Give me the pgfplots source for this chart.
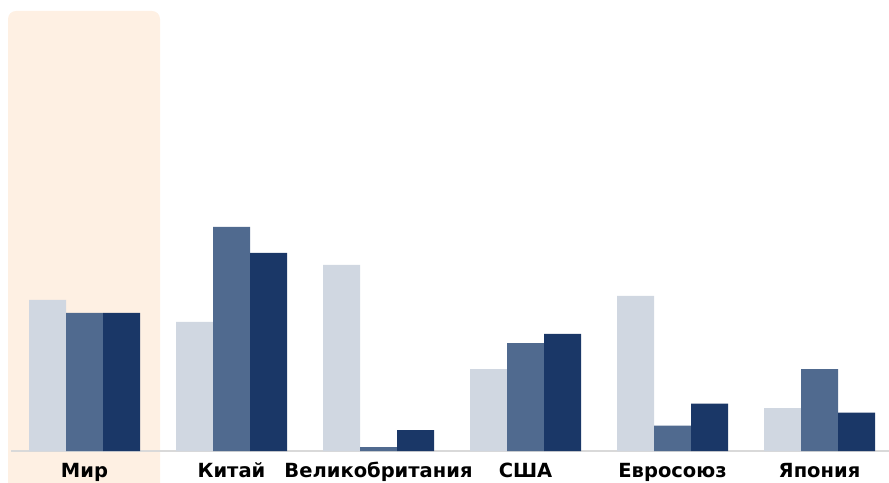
\documentclass[border=0pt]{standalone}
\usepackage{pgfplots}
\pgfplotsset{compat=1.18}
\usepackage{fontspec}
\setmainfont{DejaVu Sans}

\definecolor{hilite}{HTML}{FEF0E3}
\definecolor{barA}{HTML}{D0D7E1}
\definecolor{barB}{HTML}{506A8F}
\definecolor{barC}{HTML}{1A3767}
\definecolor{baseln}{HTML}{D9D9D9}

\begin{document}
\begin{tikzpicture}[x=1pt,y=1pt]
  \useasboundingbox (0,-31) rectangle (889,451);
  \clip (0,-31) rectangle (889,451);
  % highlighted world column
  \fill[hilite, rounded corners=8pt] (8,-60) rectangle (160,440);
  % baseline
  \draw[baseln, line width=2pt] (11,0) -- (889,0);
  \begin{axis}[
    at={(0,0)}, anchor=south west,
    scale only axis,
    width=889pt, height=451pt,
    xmin=-0.57483, xmax=5.47279,
    ymin=0, ymax=451,
    ybar=0pt, bar width=37pt,
    axis line style={draw=none},
    ytick=\empty,
    xtick={0,1,2,3,4,5},
    xticklabels={Мир,Китай,Великобритания,США,Евросоюз,Япония},
    major tick length=0pt,
    xticklabel style={font=\fontsize{19.5}{22}\selectfont\bfseries, anchor=base, yshift=-26pt},
    clip=false,
  ]
    \addplot[fill=barA, draw=none] coordinates {(0,151) (1,129) (2,186) (3,82) (4,155) (5,43)};
    \addplot[fill=barB, draw=none] coordinates {(0,138) (1,224) (2,4) (3,108) (4,25.5) (5,82)};
    \addplot[fill=barC, draw=none] coordinates {(0,138) (1,198) (2,21) (3,117) (4,47.5) (5,38.5)};
  \end{axis}
\end{tikzpicture}
\end{document}
